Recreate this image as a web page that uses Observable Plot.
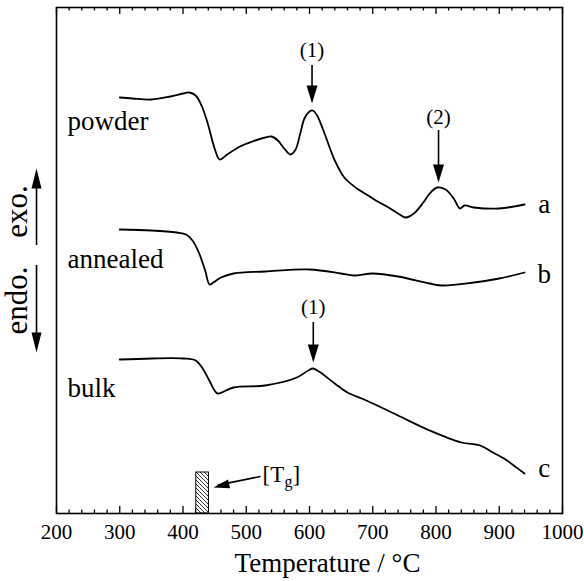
<!DOCTYPE html>
<html>
<head>
<meta charset="utf-8">
<script src="https://cdn.jsdelivr.net/npm/d3@7"></script>
<script src="https://cdn.jsdelivr.net/npm/@observablehq/plot@0.6"></script>
<style>
  html, body { margin: 0; padding: 0; background: white; }
  #chart svg text { font-family: 'Liberation Serif', 'Times New Roman', serif !important; }
</style>
</head>
<body>
<div id="chart"></div>
<script>
// ---- Data (temperature in °C, DSC signal in arbitrary units) ----
const powderT = [300,320,350,380,400,410,420,430,440,450,458,470,490,510,530,540,550,560,570,578,585,592,600,605,612,622,640,655,675,685,705,725,740,752,765,780,790,802,815,828,838,845,860,900,940];
const powderS = [416,415,414,417,420,421,418,407,388,365,354,359,367,372,376,377,373,365,359,364,379,395,402,403,398,383,353,336,325,321,313,306,300,296,300,311,320,326,324,315,305,308,306,305,309];

const annealedT = [300,350,390,405,415,425,435,442,448,460,480,530,600,650,670,700,740,790,810,860,900,940];
const annealedS = [284,283,281,279,273,261,243,229,231,236,240,242,244,240,238,240,237,230,228,231,235,241];

const bulkT = [300,350,400,420,430,440,450,455,480,530,580,598,605,615,640,660,690,740,790,840,870,890,910,925,940];
const bulkS = [154,155,155,153,146,135,123,120,126,128,136,143,145,142,130,121,113,98,83,71,68,61,54,47,40];

const seriesNames = ["powder", "annealed", "bulk"];
const seriesLetters = ["a", "b", "c"];

const majorTicks = [200,300,400,500,600,700,800,900,1000];
const minorTicks = [220,240,260,280,320,340,360,380,420,440,460,480,520,540,560,580,620,640,660,680,720,740,760,780,820,840,860,880,920,940,960,980];

// peak annotations
const peakLabels = ["(1)", "(2)", "(1)"];
const peakT      = [604, 804, 606];
const peakTop    = [448, 383, 191];
const peakTip    = [410, 331, 151];
const peakLabelY = [463, 396, 206];

const tgRange = [421, 441];

// ---- Build table ----
const table = [];
[[powderT, powderS], [annealedT, annealedS], [bulkT, bulkS]].forEach(([T, S], i) => {
  T.forEach((t, j) => table.push({series: seriesNames[i], T: t, S: S[j]}));
});

const peaks = peakLabels.map((l, i) => ({label: l, T: peakT[i], top: peakTop[i], tip: peakTip[i], ly: peakLabelY[i]}));

// custom filled arrowheads (tip at origin)
function head(ux, uy, L, W) {
  const nx = -uy, ny = ux;
  return {
    draw(ctx) {
      const bx = -ux * L, by = -uy * L;
      ctx.moveTo(0, 0);
      ctx.lineTo(bx + nx * W / 2, by + ny * W / 2);
      ctx.lineTo(bx - nx * W / 2, by - ny * W / 2);
      ctx.closePath();
    }
  };
}
const headDown = head(0, 1, 18, 11);
const headUp = head(0, -1, 20, 10);
const headDown2 = head(0, 1, 20, 10);
const tgDir = (() => { const dx = -47, dy = 11, n = Math.hypot(dx, dy); return [dx / n, dy / n]; })();
const headTg = head(tgDir[0], tgDir[1], 16, 9);

const serif = "'Liberation Serif', 'Times New Roman', serif";

const chart = Plot.plot({
  width: 584,
  height: 581,
  marginLeft: 56,
  marginRight: 22,
  marginTop: 7,
  marginBottom: 68,
  style: {fontFamily: serif, fontSize: "21px", color: "black", background: "white", overflow: "visible"},
  x: {domain: [200, 1000], label: null},
  y: {domain: [0, 506], axis: null},
  marks: [
    // ticks (inward, bottom and top)
    Plot.ruleX(majorTicks, {x: d => d, y1: 0, y2: 7, stroke: "black", strokeWidth: 1.3}),
    Plot.ruleX(minorTicks, {x: d => d, y1: 0, y2: 3.5, stroke: "black", strokeWidth: 1.3}),
    Plot.ruleX(majorTicks, {x: d => d, y1: 499, y2: 506, stroke: "black", strokeWidth: 1.3}),
    Plot.ruleX(minorTicks, {x: d => d, y1: 502.5, y2: 506, stroke: "black", strokeWidth: 1.3}),
    Plot.axisX({ticks: majorTicks, tickSize: 0, tickPadding: 11, tickFormat: d => String(d), fontSize: 21, fontFamily: serif}),
    Plot.text(["Temperature / °C"], {frameAnchor: "bottom", lineAnchor: "middle", dx: 18, dy: 50, fontSize: 27, fontFamily: serif, fill: "black"}),

    // curves
    Plot.line(table, {x: "T", y: "S", z: "series", stroke: "black", strokeWidth: 1.8, curve: "catmull-rom"}),

    // curve names (left) and letters (right)
    Plot.text(seriesNames, {x: 217.4, y: (d, i) => [392, 254, 125][i], text: d => d, textAnchor: "start", fontSize: 27, fontFamily: serif, fill: "black"}),
    Plot.text(seriesLetters, {x: 971, y: (d, i) => [309, 239, 45][i], text: d => d, fontSize: 27, fontFamily: serif, fill: "black"}),

    // peak arrows
    Plot.ruleX(peaks, {x: "T", y1: "top", y2: d => d.tip + 15, stroke: "black", strokeWidth: 1.6}),
    Plot.dot(peaks, {x: "T", y: "tip", symbol: headDown, fill: "black", stroke: "none"}),
    Plot.text(peaks, {x: "T", y: "ly", text: "label", fontSize: 21, fontFamily: serif, fill: "black"}),

    // Tg hatched bar
    Plot.rect([tgRange], {x1: d => d[0], x2: d => d[1], y1: 0, y2: 41, fill: "url(#hatch)", stroke: "black", strokeWidth: 1}),
    Plot.link([0], {x1: 522.5, y1: 37, x2: 455, y2: 28.4, stroke: "black", strokeWidth: 1.6}),
    Plot.dot([0], {x: 448.2, y: 26, symbol: headTg, fill: "black", stroke: "none"}),
    Plot.text(["[T"], {x: 525.7, y: 39, textAnchor: "start", fontSize: 23, fontFamily: serif, fill: "black"}),
    Plot.text(["g"], {x: 525.7, y: 32, dx: 22, textAnchor: "start", fontSize: 16, fontFamily: serif, fill: "black"}),
    Plot.text(["]"], {x: 525.7, y: 39, dx: 30, textAnchor: "start", fontSize: 23, fontFamily: serif, fill: "black"}),

    // exo / endo indicators
    Plot.text(["exo."], {frameAnchor: "left", textAnchor: "middle", lineAnchor: "middle", y: 302, dx: -39, rotate: -90, fontSize: 31, fontFamily: serif, fill: "black"}),
    Plot.text(["endo."], {frameAnchor: "left", textAnchor: "middle", lineAnchor: "middle", y: 213, dx: -39, rotate: -90, fontSize: 31, fontFamily: serif, fill: "black"}),
    Plot.ruleX([168.4], {x: d => d, y1: 268, y2: 335, stroke: "black", strokeWidth: 1.6}),
    Plot.dot([168.4], {x: d => d, y: 345, symbol: headUp, fill: "black", stroke: "none"}),
    Plot.ruleX([168.4], {x: d => d, y1: 248, y2: 175, stroke: "black", strokeWidth: 1.6}),
    Plot.dot([168.4], {x: d => d, y: 161, symbol: headDown2, fill: "black", stroke: "none"}),

    Plot.frame({stroke: "black", strokeWidth: 1.6})
  ]
});

// hatch pattern for the Tg bar
const svg = d3.select(chart);
const defs = svg.insert("defs", ":first-child");
const pat = defs.append("pattern").attr("id", "hatch").attr("patternUnits", "userSpaceOnUse")
  .attr("width", 4).attr("height", 4);
pat.append("rect").attr("width", 4).attr("height", 4).attr("fill", "white");
pat.append("path").attr("d", "M-1,-1L5,5M3,-1L5,1M-1,3L1,5").attr("stroke", "black").attr("stroke-width", 0.8);

document.getElementById("chart").appendChild(chart);
</script>
</body>
</html>
